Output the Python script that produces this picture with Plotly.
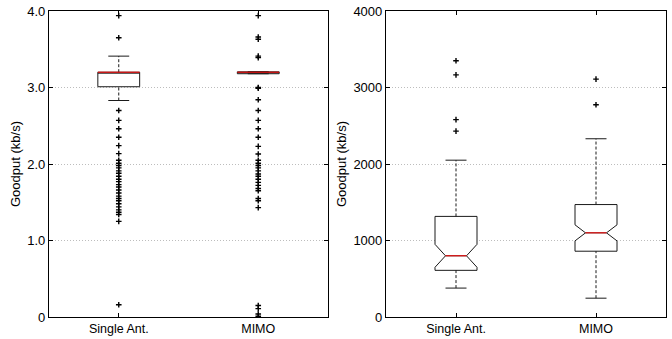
import plotly.graph_objects as go

# ---------------- data ----------------
categories = ["Single Ant.", "MIMO"]
cat_pos = [1, 2]

# left panel (kb/s, scaled)
left_q1 = [3.01, 3.18]
left_median = [3.20, 3.20]
left_q3 = [3.20, 3.205]
left_low = [2.83, 3.18]
left_high = [3.41, 3.205]
left_out_single = [3.94, 3.65, 2.70, 2.57, 2.46, 2.35, 2.24, 2.135, 2.05, 2.01,
                   1.98, 1.95, 1.91, 1.88, 1.84, 1.80, 1.77, 1.73, 1.70, 1.66,
                   1.62, 1.58, 1.55, 1.52, 1.48, 1.44, 1.40, 1.37, 1.34, 1.25, 0.16]
left_out_mimo = [3.94, 3.66, 3.63, 3.41, 3.39, 3.00, 2.99, 2.84, 2.70, 2.57,
                 2.46, 2.35, 2.23, 2.13, 2.05, 2.01, 1.98, 1.95, 1.91, 1.87,
                 1.84, 1.80, 1.76, 1.72, 1.68, 1.65, 1.55, 1.52, 1.43,
                 0.15, 0.11, 0.04, 0.01]
left_ticks = [0, 1, 2, 3, 4]
left_ticktext = ["0", "1.0", "2.0", "3.0", "4.0"]

# right panel (kb/s)
right_q1 = [610, 860]
right_median = [800, 1100]
right_q3 = [1315, 1470]
right_low = [378, 246]
right_high = [2050, 2330]
right_notch = [150, 105]
right_out_single = [3350, 3165, 2580, 2430]
right_out_mimo = [3110, 2775]
right_ticks = [0, 1000, 2000, 3000, 4000]
right_ticktext = ["0", "1000", "2000", "3000", "4000"]

# ---------------- style ----------------
BOX_W = 0.3
CAP_W = 0.15
NOTCH_W = 0.25
FONT = "Liberation Sans, Arial, Helvetica, sans-serif"

fig = go.Figure()


def add_panel(xa, ya, q1, med, q3, lo, hi, outs, notched, notchspan=None):
    box_kw = dict(
        x=cat_pos, q1=q1, median=med, q3=q3, lowerfence=q1, upperfence=q3,
        width=BOX_W, whiskerwidth=0, fillcolor="white",
        line=dict(color="#1a1a1a", width=1), boxpoints=False,
        showlegend=False, hoverinfo="skip", xaxis=xa, yaxis=ya,
    )
    if notched:
        box_kw.update(notched=True, notchspan=notchspan, notchwidth=NOTCH_W)
    fig.add_trace(go.Box(**box_kw))

    # dashed whiskers
    wx, wy = [], []
    for p, a, b, c, d in zip(cat_pos, lo, q1, q3, hi):
        wx += [p, p, None, p, p, None]
        wy += [a, b, None, c, d, None]
    fig.add_trace(go.Scatter(x=wx, y=wy, mode="lines",
                             line=dict(color="#1a1a1a", width=1, dash="3px,2px"),
                             showlegend=False, hoverinfo="skip", xaxis=xa, yaxis=ya))
    # caps
    cx, cy = [], []
    for p, a, d in zip(cat_pos, lo, hi):
        if a < d:
            cx += [p - CAP_W / 2, p + CAP_W / 2, None, p - CAP_W / 2, p + CAP_W / 2, None]
            cy += [a, a, None, d, d, None]
    if cx:
        fig.add_trace(go.Scatter(x=cx, y=cy, mode="lines",
                                 line=dict(color="#1a1a1a", width=1),
                                 showlegend=False, hoverinfo="skip", xaxis=xa, yaxis=ya))
    # red median
    half = BOX_W / 2 * (1 - 2 * NOTCH_W) if notched else BOX_W / 2
    mx, my = [], []
    for p, m in zip(cat_pos, med):
        mx += [p - half, p + half, None]
        my += [m, m, None]
    fig.add_trace(go.Scatter(x=mx, y=my, mode="lines",
                             line=dict(color="red", width=1),
                             showlegend=False, hoverinfo="skip", xaxis=xa, yaxis=ya))
    # outliers
    for p, o in zip(cat_pos, outs):
        fig.add_trace(go.Scatter(
            x=[p] * len(o), y=o, mode="markers",
            marker=dict(symbol="cross-thin", size=4, color="black",
                        line=dict(color="black", width=1.4)),
            showlegend=False, hoverinfo="skip", xaxis=xa, yaxis=ya))


add_panel("x", "y", left_q1, left_median, left_q3, left_low, left_high,
          [left_out_single, left_out_mimo], notched=False)
add_panel("x2", "y2", right_q1, right_median, right_q3, right_low, right_high,
          [right_out_single, right_out_mimo], notched=True, notchspan=right_notch)

xcommon = dict(range=[0.5, 2.5], tickvals=cat_pos, ticktext=categories,
               ticks="inside", ticklen=4, tickcolor="black", automargin=False,
               showline=True, linecolor="black", linewidth=1.2, mirror="allticks",
               showgrid=False, zeroline=False,
               tickfont=dict(family=FONT, size=12.5, color="black"))
ycommon = dict(ticks="inside", ticklen=4, tickcolor="black", automargin=False,
               showline=True, linecolor="black", linewidth=1.2, mirror="allticks",
               showgrid=True, gridcolor="#bdbdbd", griddash="1px,2px", gridwidth=1,
               zeroline=False,
               tickfont=dict(family=FONT, size=13, color="black"),
               title=dict(text="Goodput (kb/s)", standoff=3,
                          font=dict(family=FONT, size=13, color="black")))

ydom = [1 - 317 / 339, 1 - 11 / 339]
fig.update_layout(
    width=672, height=339,
    margin=dict(l=0, r=0, t=0, b=0),
    paper_bgcolor="white", plot_bgcolor="white",
    xaxis=dict(domain=[49 / 672, 328 / 672], anchor="y", **xcommon),
    yaxis=dict(domain=ydom, anchor="x", range=[0, 4],
               tickvals=left_ticks, ticktext=left_ticktext, **ycommon),
    xaxis2=dict(domain=[386 / 672, 666 / 672], anchor="y2", **xcommon),
    yaxis2=dict(domain=ydom, anchor="x2", range=[0, 4000],
                tickvals=right_ticks, ticktext=right_ticktext, **ycommon),
)

fig.write_html("out.html", config={"displayModeBar": False},
               post_script="document.body.style.margin='0';")
